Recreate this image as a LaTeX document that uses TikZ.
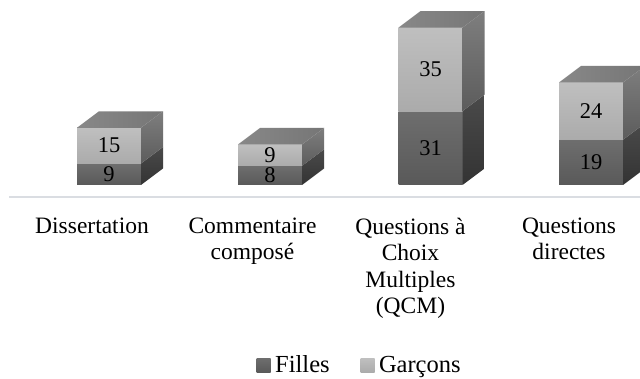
\documentclass[tikz,border=0pt]{standalone}
\usepackage{fontspec}
\setmainfont{Liberation Serif}
\definecolor{filTop}{HTML}{6E6E6E}
\definecolor{filBot}{HTML}{595959}
\definecolor{garTop}{HTML}{BFBFBF}
\definecolor{garBot}{HTML}{ABABAB}
\definecolor{topL}{HTML}{888888}
\definecolor{topR}{HTML}{767676}
\definecolor{sgTop}{HTML}{7E7E7E}
\definecolor{sgBot}{HTML}{5C5C5C}
\definecolor{sfTop}{HTML}{4A4A4A}
\definecolor{sfBot}{HTML}{333333}
\definecolor{floorc}{HTML}{DADDE2}
\tikzset{
  catlabel/.style={font=\fontsize{23.5}{26.5}\selectfont, align=center, anchor=north, inner sep=0pt, text=black},
  vallabel/.style={font=\fontsize{22.5}{26}\selectfont, inner sep=0pt, text=black},
  legtext/.style={font=\fontsize{24.5}{28}\selectfont, anchor=base west, inner sep=0pt, text=black},
  floorline/.style={draw=floorc, line width=1.5pt},
}
% #1 front left x, #2 Filles, #3 Garcons, #4 name prefix
\newcommand{\chartbar}[4]{%
  \pgfmathsetmacro{\bxa}{#1}%
  \pgfmathsetmacro{\bxb}{#1+64}%
  \pgfmathsetmacro{\bxm}{#1+32}%
  \pgfmathsetmacro{\byb}{185-#2*2.385}%
  \pgfmathsetmacro{\byc}{185-(#2+#3)*2.385}%
  \pgfmathsetmacro{\bymf}{(185+\byb)/2}%
  \pgfmathsetmacro{\bymg}{(\byb+\byc)/2}%
  % front faces
  \shade[top color=filTop, bottom color=filBot] (\bxa,185) rectangle (\bxb,\byb);
  \shade[top color=garTop, bottom color=garBot] (\bxa,\byb) rectangle (\bxb,\byc);
  % side faces
  \shade[top color=sfTop, bottom color=sfBot] (\bxb,185) -- (\bxb+22,168.5) -- (\bxb+22,\byb-16.5) -- (\bxb,\byb) -- cycle;
  \shade[top color=sgTop, bottom color=sgBot] (\bxb,\byb) -- (\bxb+22,\byb-16.5) -- (\bxb+22,\byc-16.5) -- (\bxb,\byc) -- cycle;
  % top face
  \shade[left color=topL, right color=topR] (\bxa,\byc) -- (\bxa+22,\byc-16.5) -- (\bxb+22,\byc-16.5) -- (\bxb,\byc) -- cycle;
  % values
  \node[vallabel] (#4f) at (\bxm,\bymf) {#2};
  \node[vallabel] (#4g) at (\bxm,\bymg) {#3};
}
\begin{document}
\begin{tikzpicture}[x=1pt, y=-1pt]
  \useasboundingbox (0,0) rectangle (640,379);
  \clip (0,0) rectangle (640,379);
  \fill[white] (0,0) rectangle (640,379);
  % floor
  \coordinate (fl) at (9,197);
  \coordinate (fr) at (640,197);
  \draw[floorline] (fl) -- (fr);
  % bars
  \chartbar{77}{9}{15}{diss}
  \chartbar{238}{8}{9}{comm}
  \chartbar{398.5}{31}{35}{qcm}
  \chartbar{559}{19}{24}{qd}
  % category labels
  \node[catlabel] (c1) at (92,217.5) {Dissertation};
  \node[catlabel] (c2) at (252.5,217.5) {Commentaire\\compos\'e};
  \node[catlabel] (c3) at (410.5,217.5) {Questions \`a\\Choix\\Multiples\\(QCM)};
  \node[catlabel] (c4) at (569,217.5) {Questions\\directes};
  % legend
  \shade[top color=filTop, bottom color=filBot] (256.7,358.3) rectangle (270.7,372.3);
  \node[legtext] (lf) at (275,372.3) {Filles};
  \shade[top color=garTop, bottom color=garBot] (360.5,358.3) rectangle (374.5,372.3);
  \node[legtext] (lg) at (378.8,372.3) {Garçons};
\end{tikzpicture}
\end{document}
